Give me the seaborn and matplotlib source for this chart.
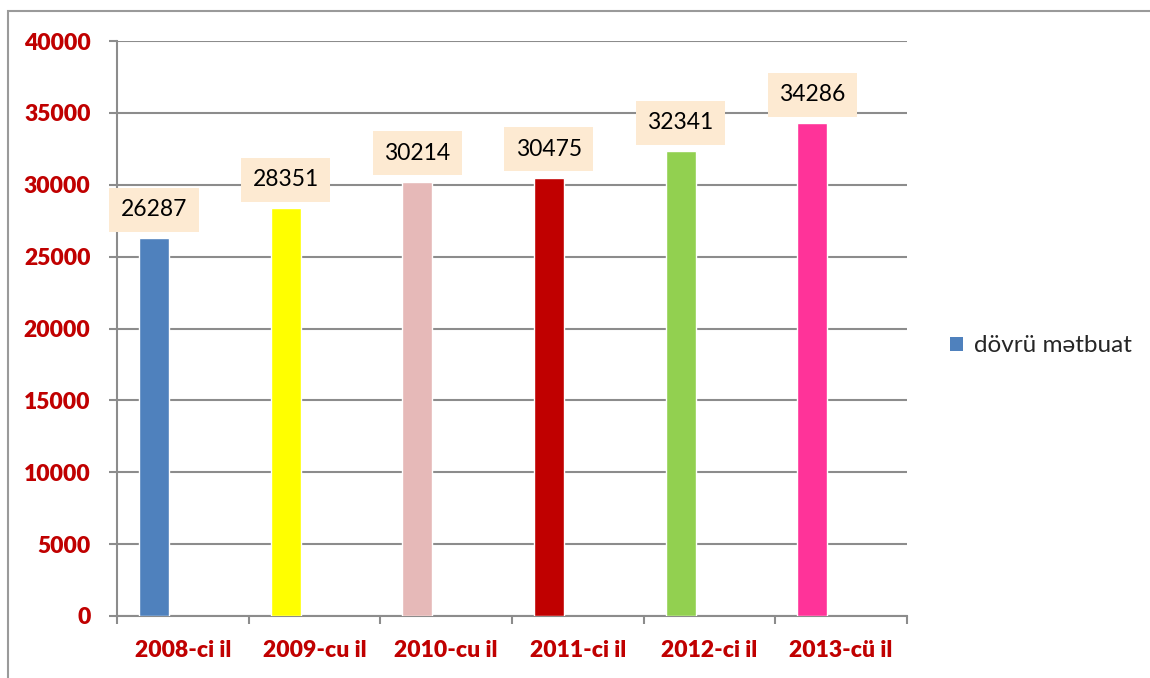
import matplotlib
matplotlib.use("Agg")
import matplotlib.pyplot as plt
from matplotlib.patches import Patch, Rectangle
import seaborn as sns
import pandas as pd

categories = ["2008-ci il", "2009-cu il", "2010-cu il", "2011-ci il", "2012-ci il", "2013-cü il"]
values = [26287, 28351, 30214, 30475, 32341, 34286]
colors = ["#4F81BD", "#FFFF00", "#E6B9B8", "#C00000", "#92D050", "#FF3399"]
series_name = "dövrü mətbuat"
yticks = [0, 5000, 10000, 15000, 20000, 25000, 30000, 35000, 40000]

sns.set_style("white")
FAM = ["Lato", "DejaVu Sans"]
plt.rcParams["font.family"] = FAM

df = pd.DataFrame({"year": categories, "value": values})

fig = plt.figure(figsize=(11.5, 6.78), dpi=100)
ax = fig.add_axes([117 / 1150, 1 - 616 / 678, (907 - 117) / 1150, (616 - 41) / 678])

sns.barplot(data=df, x="year", y="value", hue="year", palette=colors,
            width=0.228, legend=False, saturation=1, ax=ax, zorder=3)

# Excel-style offset of the first series within each category
for p in ax.patches:
    p.set_x(p.get_x() - 0.22)

ax.set_xlim(-0.5, len(categories) - 0.5)
ax.set_ylim(0, 40000)
ax.set_yticks(yticks)
ax.set_yticklabels([str(v) for v in yticks], fontweight="heavy", fontsize=16.5, color="#C00000")
ax.set_xticks(range(len(categories)))
ax.set_xticklabels(categories, fontweight="heavy", fontsize=16.5, color="#C00000")
ax.set_xlabel("")
ax.set_ylabel("")

grid_c = "#8C8C8C"
ax.yaxis.grid(True, color=grid_c, linewidth=1.5, zorder=0)
ax.xaxis.grid(False)
for s in ["top", "right"]:
    ax.spines[s].set_visible(False)
for s in ["left", "bottom"]:
    ax.spines[s].set_color(grid_c)
    ax.spines[s].set_linewidth(1.5)

ax.tick_params(axis="y", which="major", left=True, length=6, width=1.5, color=grid_c, pad=13)
ax.tick_params(axis="x", which="major", bottom=False, length=0, pad=17)
ax.set_xticks([i - 0.5 for i in range(len(categories) + 1)], minor=True)
ax.tick_params(axis="x", which="minor", bottom=True, length=6, width=1.5, color=grid_c)

for p, v in zip(ax.patches, values):
    ax.annotate(str(v), xy=(p.get_x() + p.get_width() / 2, p.get_height()),
                xytext=(0, 13), textcoords="offset points", ha="center", va="bottom",
                fontsize=16.5, color="black", zorder=5,
                bbox=dict(boxstyle="square,pad=0.5", facecolor="#FDEAD2", edgecolor="none"))

handles = [Patch(facecolor=colors[0], edgecolor="none")]
fig.legend(handles, [series_name], loc="center left", bbox_to_anchor=(928 / 1150, 1 - 346 / 678),
           frameon=False, fontsize=17.5, handlelength=0.55, handleheight=0.55, handletextpad=0.45)

fig.patches.append(Rectangle((8 / 1150, -0.1), 1.2, 1.1 - 11 / 678, transform=fig.transFigure,
                             fill=False, edgecolor="#9A9A9A", linewidth=1.5))

fig.savefig("out.png", dpi=100, facecolor="white")
